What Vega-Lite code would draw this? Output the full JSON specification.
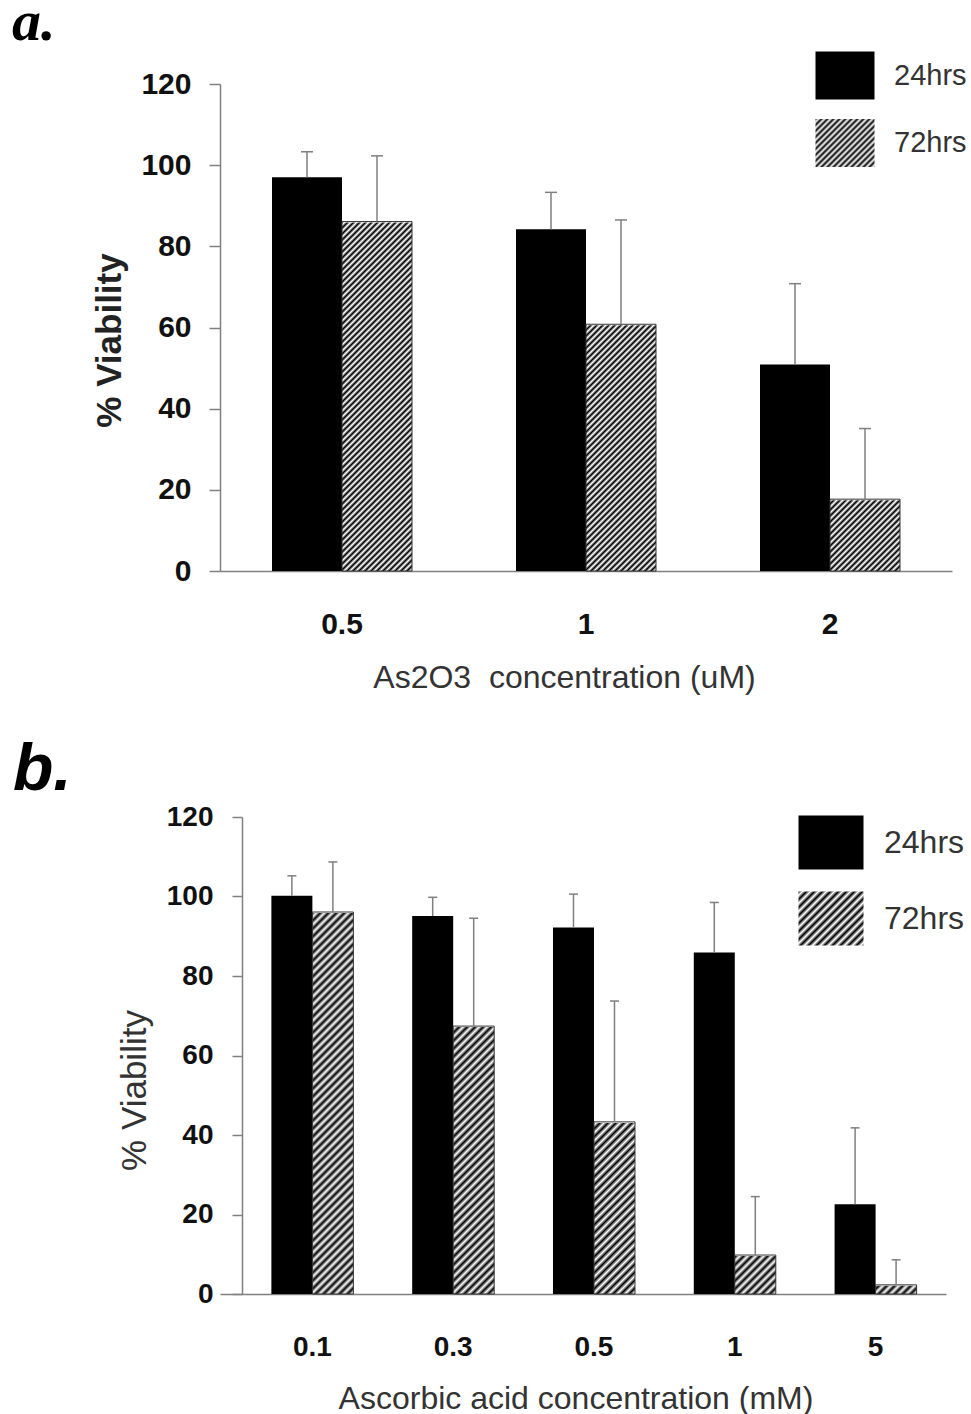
{
"$schema":"https://vega.github.io/schema/vega-lite/v6.json",
"padding":{"left":12,"top":-6,"right":0,"bottom":0},
"background":"white",
"bounds":"flush",
"spacing":246,
"resolve":{"scale":{"xOffset":"independent","shape":"independent","size":"independent"},"legend":{"shape":"independent","size":"independent"}},
"datasets":{
"a":[
{"conc":"0.5","time":"24hrs","mean":97.0,"upper":103.3},
{"conc":"0.5","time":"72hrs","mean":86.1,"upper":102.3},
{"conc":"1","time":"24hrs","mean":84.2,"upper":93.3},
{"conc":"1","time":"72hrs","mean":60.8,"upper":86.5},
{"conc":"2","time":"24hrs","mean":50.9,"upper":70.8},
{"conc":"2","time":"72hrs","mean":17.7,"upper":35.1}],
"b":[
{"conc":"0.1","time":"24hrs","mean":100.2,"upper":105.2},
{"conc":"0.1","time":"72hrs","mean":96.1,"upper":108.7},
{"conc":"0.3","time":"24hrs","mean":95.1,"upper":99.8},
{"conc":"0.3","time":"72hrs","mean":67.4,"upper":94.5},
{"conc":"0.5","time":"24hrs","mean":92.2,"upper":100.6},
{"conc":"0.5","time":"72hrs","mean":43.3,"upper":73.7},
{"conc":"1","time":"24hrs","mean":85.9,"upper":98.5},
{"conc":"1","time":"72hrs","mean":9.8,"upper":24.5},
{"conc":"5","time":"24hrs","mean":22.6,"upper":41.8},
{"conc":"5","time":"72hrs","mean":2.3,"upper":8.6}]
},
"vconcat":[
{
"width":732,"height":487,
"data":{"name":"a"},
"encoding":{
"x":{"field":"conc","type":"nominal","sort":null,"scale":{"domain":["0.5","1","2"],"paddingInner":0.4262,"paddingOuter":0.2131},"axis":{"title":"As2O3\u00a0 concentration (uM)","labelAngle":0,"ticks":false,"tickSize":0,"domainColor":"#808080","domainWidth":1.5,"labelFont":"Liberation Sans","labelFontWeight":"bold","labelFontSize":30,"labelColor":"#111","labelPadding":62,"labelBaseline":"alphabetic","titleFont":"Liberation Sans","titleFontWeight":"normal","titleFontSize":32,"titleColor":"#333","titleX":344,"titleY":116,"titleAlign":"center","titleBaseline":"alphabetic"}},
"xOffset":{"field":"time","type":"nominal","scale":{"domain":["24hrs","72hrs"]}},
"y":{"field":"mean","type":"quantitative","scale":{"domain":[0,120],"nice":false},"axis":{"title":"% Viability","values":[0,20,40,60,80,100,120],"domainColor":"#808080","domainWidth":1.5,"tickColor":"#808080","tickWidth":1.5,"tickSize":11,"labelFont":"Liberation Sans","labelFontWeight":"bold","labelFontSize":30,"labelColor":"#111","labelPadding":18,"titleFont":"Liberation Sans","titleFontWeight":"bold","titleFontSize":35,"titleColor":"#222","titleAngle":270,"titleX":-100,"titleY":256,"titleAlign":"center","titleBaseline":"alphabetic"}}
},
"layer":[
{"transform":[{"filter":"datum.time === '72hrs'"}],"mark":{"type":"bar","color":{"gradient":"linear","x1":0,"y1":0,"x2":0.1735,"y2":1.2071,"stops":[
{"offset":0,"color":"#000"},{"offset":0.005,"color":"#fff"},{"offset":0.01,"color":"#000"},{"offset":0.015,"color":"#fff"},{"offset":0.02,"color":"#000"},{"offset":0.025,"color":"#fff"},{"offset":0.03,"color":"#000"},{"offset":0.035,"color":"#fff"},{"offset":0.04,"color":"#000"},{"offset":0.045,"color":"#fff"},
{"offset":0.05,"color":"#000"},{"offset":0.055,"color":"#fff"},{"offset":0.06,"color":"#000"},{"offset":0.065,"color":"#fff"},{"offset":0.07,"color":"#000"},{"offset":0.075,"color":"#fff"},{"offset":0.08,"color":"#000"},{"offset":0.085,"color":"#fff"},{"offset":0.09,"color":"#000"},{"offset":0.095,"color":"#fff"},
{"offset":0.1,"color":"#000"},{"offset":0.105,"color":"#fff"},{"offset":0.11,"color":"#000"},{"offset":0.115,"color":"#fff"},{"offset":0.12,"color":"#000"},{"offset":0.125,"color":"#fff"},{"offset":0.13,"color":"#000"},{"offset":0.135,"color":"#fff"},{"offset":0.14,"color":"#000"},{"offset":0.145,"color":"#fff"},
{"offset":0.15,"color":"#000"},{"offset":0.155,"color":"#fff"},{"offset":0.16,"color":"#000"},{"offset":0.165,"color":"#fff"},{"offset":0.17,"color":"#000"},{"offset":0.175,"color":"#fff"},{"offset":0.18,"color":"#000"},{"offset":0.185,"color":"#fff"},{"offset":0.19,"color":"#000"},{"offset":0.195,"color":"#fff"},
{"offset":0.2,"color":"#000"},{"offset":0.205,"color":"#fff"},{"offset":0.21,"color":"#000"},{"offset":0.215,"color":"#fff"},{"offset":0.22,"color":"#000"},{"offset":0.225,"color":"#fff"},{"offset":0.23,"color":"#000"},{"offset":0.235,"color":"#fff"},{"offset":0.24,"color":"#000"},{"offset":0.245,"color":"#fff"},
{"offset":0.25,"color":"#000"},{"offset":0.255,"color":"#fff"},{"offset":0.26,"color":"#000"},{"offset":0.265,"color":"#fff"},{"offset":0.27,"color":"#000"},{"offset":0.275,"color":"#fff"},{"offset":0.28,"color":"#000"},{"offset":0.285,"color":"#fff"},{"offset":0.29,"color":"#000"},{"offset":0.295,"color":"#fff"},
{"offset":0.3,"color":"#000"},{"offset":0.305,"color":"#fff"},{"offset":0.31,"color":"#000"},{"offset":0.315,"color":"#fff"},{"offset":0.32,"color":"#000"},{"offset":0.325,"color":"#fff"},{"offset":0.33,"color":"#000"},{"offset":0.335,"color":"#fff"},{"offset":0.34,"color":"#000"},{"offset":0.345,"color":"#fff"},
{"offset":0.35,"color":"#000"},{"offset":0.355,"color":"#fff"},{"offset":0.36,"color":"#000"},{"offset":0.365,"color":"#fff"},{"offset":0.37,"color":"#000"},{"offset":0.375,"color":"#fff"},{"offset":0.38,"color":"#000"},{"offset":0.385,"color":"#fff"},{"offset":0.39,"color":"#000"},{"offset":0.395,"color":"#fff"},
{"offset":0.4,"color":"#000"},{"offset":0.405,"color":"#fff"},{"offset":0.41,"color":"#000"},{"offset":0.415,"color":"#fff"},{"offset":0.42,"color":"#000"},{"offset":0.425,"color":"#fff"},{"offset":0.43,"color":"#000"},{"offset":0.435,"color":"#fff"},{"offset":0.44,"color":"#000"},{"offset":0.445,"color":"#fff"},
{"offset":0.45,"color":"#000"},{"offset":0.455,"color":"#fff"},{"offset":0.46,"color":"#000"},{"offset":0.465,"color":"#fff"},{"offset":0.47,"color":"#000"},{"offset":0.475,"color":"#fff"},{"offset":0.48,"color":"#000"},{"offset":0.485,"color":"#fff"},{"offset":0.49,"color":"#000"},{"offset":0.495,"color":"#fff"},
{"offset":0.5,"color":"#000"},{"offset":0.505,"color":"#fff"},{"offset":0.51,"color":"#000"},{"offset":0.515,"color":"#fff"},{"offset":0.52,"color":"#000"},{"offset":0.525,"color":"#fff"},{"offset":0.53,"color":"#000"},{"offset":0.535,"color":"#fff"},{"offset":0.54,"color":"#000"},{"offset":0.545,"color":"#fff"},
{"offset":0.55,"color":"#000"},{"offset":0.555,"color":"#fff"},{"offset":0.56,"color":"#000"},{"offset":0.565,"color":"#fff"},{"offset":0.57,"color":"#000"},{"offset":0.575,"color":"#fff"},{"offset":0.58,"color":"#000"},{"offset":0.585,"color":"#fff"},{"offset":0.59,"color":"#000"},{"offset":0.595,"color":"#fff"},
{"offset":0.6,"color":"#000"},{"offset":0.605,"color":"#fff"},{"offset":0.61,"color":"#000"},{"offset":0.615,"color":"#fff"},{"offset":0.62,"color":"#000"},{"offset":0.625,"color":"#fff"},{"offset":0.63,"color":"#000"},{"offset":0.635,"color":"#fff"},{"offset":0.64,"color":"#000"},{"offset":0.645,"color":"#fff"},
{"offset":0.65,"color":"#000"},{"offset":0.655,"color":"#fff"},{"offset":0.66,"color":"#000"},{"offset":0.665,"color":"#fff"},{"offset":0.67,"color":"#000"},{"offset":0.675,"color":"#fff"},{"offset":0.68,"color":"#000"},{"offset":0.685,"color":"#fff"},{"offset":0.69,"color":"#000"},{"offset":0.695,"color":"#fff"},
{"offset":0.7,"color":"#000"},{"offset":0.705,"color":"#fff"},{"offset":0.71,"color":"#000"},{"offset":0.715,"color":"#fff"},{"offset":0.72,"color":"#000"},{"offset":0.725,"color":"#fff"},{"offset":0.73,"color":"#000"},{"offset":0.735,"color":"#fff"},{"offset":0.74,"color":"#000"},{"offset":0.745,"color":"#fff"},
{"offset":0.75,"color":"#000"},{"offset":0.755,"color":"#fff"},{"offset":0.76,"color":"#000"},{"offset":0.765,"color":"#fff"},{"offset":0.77,"color":"#000"},{"offset":0.775,"color":"#fff"},{"offset":0.78,"color":"#000"},{"offset":0.785,"color":"#fff"},{"offset":0.79,"color":"#000"},{"offset":0.795,"color":"#fff"},
{"offset":0.8,"color":"#000"},{"offset":0.805,"color":"#fff"},{"offset":0.81,"color":"#000"},{"offset":0.815,"color":"#fff"},{"offset":0.82,"color":"#000"},{"offset":0.825,"color":"#fff"},{"offset":0.83,"color":"#000"},{"offset":0.835,"color":"#fff"},{"offset":0.84,"color":"#000"},{"offset":0.845,"color":"#fff"},
{"offset":0.85,"color":"#000"},{"offset":0.855,"color":"#fff"},{"offset":0.86,"color":"#000"},{"offset":0.865,"color":"#fff"},{"offset":0.87,"color":"#000"},{"offset":0.875,"color":"#fff"},{"offset":0.88,"color":"#000"},{"offset":0.885,"color":"#fff"},{"offset":0.89,"color":"#000"},{"offset":0.895,"color":"#fff"},
{"offset":0.9,"color":"#000"},{"offset":0.905,"color":"#fff"},{"offset":0.91,"color":"#000"},{"offset":0.915,"color":"#fff"},{"offset":0.92,"color":"#000"},{"offset":0.925,"color":"#fff"},{"offset":0.93,"color":"#000"}]}},
"encoding":{"y":{"datum":120,"type":"quantitative","axis":{"title":"% Viability","values":[0,20,40,60,80,100,120],"domainColor":"#808080","domainWidth":1.5,"tickColor":"#808080","tickWidth":1.5,"tickSize":11,"labelFont":"Liberation Sans","labelFontWeight":"bold","labelFontSize":30,"labelColor":"#111","labelPadding":18,"titleFont":"Liberation Sans","titleFontWeight":"bold","titleFontSize":35,"titleColor":"#222","titleAngle":270,"titleX":-100,"titleY":256,"titleAlign":"center","titleBaseline":"alphabetic"}},"y2":{"datum":0}}},
{"transform":[{"filter":"datum.time === '72hrs'"}],"mark":{"type":"bar","color":"#ffffff","stroke":"#ffffff","strokeWidth":2},"encoding":{"y2":{"datum":120}}},
{"transform":[{"filter":"datum.time === '24hrs'"}],"mark":{"type":"bar","color":"#000000"}},
{"transform":[{"filter":"datum.time === '72hrs'"}],"mark":{"type":"bar","fill":"#ffffff","fillOpacity":0,"stroke":"#333333","strokeWidth":1}},
{"mark":{"type":"rule","color":"#7f7f7f","strokeWidth":1.5},"encoding":{"y2":{"field":"upper"}}},
{"mark":{"type":"tick","color":"#7f7f7f","thickness":1.5,"size":12,"opacity":1},"encoding":{"y":{"field":"upper","type":"quantitative","axis":{"title":"% Viability","values":[0,20,40,60,80,100,120],"domainColor":"#808080","domainWidth":1.5,"tickColor":"#808080","tickWidth":1.5,"tickSize":11,"labelFont":"Liberation Sans","labelFontWeight":"bold","labelFontSize":30,"labelColor":"#111","labelPadding":18,"titleFont":"Liberation Sans","titleFontWeight":"bold","titleFontSize":35,"titleColor":"#222","titleAngle":270,"titleX":-100,"titleY":256,"titleAlign":"center","titleBaseline":"alphabetic"}}}},
{"mark":{"type":"point","filled":true,"opacity":0,"size":3481,"stroke":"#333333","strokeWidth":1,
"fill":{"expr":"datum.value === '72hrs' ? {gradient:'linear',x1:0,y1:0,x2:1.2239,y2:0.9957,stops:[{offset:0,color:'#000'},{offset:0.025,color:'#fff'},{offset:0.05,color:'#000'},{offset:0.075,color:'#fff'},{offset:0.1,color:'#000'},{offset:0.125,color:'#fff'},{offset:0.15,color:'#000'},{offset:0.175,color:'#fff'},{offset:0.2,color:'#000'},{offset:0.225,color:'#fff'},{offset:0.25,color:'#000'},{offset:0.275,color:'#fff'},{offset:0.3,color:'#000'},{offset:0.325,color:'#fff'},{offset:0.35,color:'#000'},{offset:0.375,color:'#fff'},{offset:0.4,color:'#000'},{offset:0.425,color:'#fff'},{offset:0.45,color:'#000'},{offset:0.475,color:'#fff'},{offset:0.5,color:'#000'},{offset:0.525,color:'#fff'},{offset:0.55,color:'#000'},{offset:0.575,color:'#fff'},{offset:0.6,color:'#000'},{offset:0.625,color:'#fff'},{offset:0.65,color:'#000'},{offset:0.675,color:'#fff'},{offset:0.7,color:'#000'},{offset:0.725,color:'#fff'},{offset:0.75,color:'#000'},{offset:0.775,color:'#fff'},{offset:0.8,color:'#000'},{offset:0.825,color:'#fff'},{offset:0.85,color:'#000'},{offset:0.875,color:'#fff'},{offset:0.9,color:'#000'}]} : '#000'"}},
"encoding":{"shape":{"field":"time","type":"nominal","scale":{"domain":["24hrs","72hrs"],"range":["M-1,-0.8136L1,-0.8136L1,0.8136L-1,0.8136Z","M-1,-0.8136L1,-0.8136L1,0.8136L-1,0.8136Z"]},
"legend":{"orient":"none","legendX":595,"legendY":-38.5,"title":null,"padding":0,"symbolOffset":0,"symbolSize":3481,"symbolOpacity":1,"symbolStrokeColor":"#333","symbolStrokeWidth":1,"labelFont":"Liberation Sans","labelFontSize":29,"labelColor":"#333","labelOffset":19,"rowPadding":10.5}}}},
{"mark":{"type":"point","opacity":0},
"encoding":{"size":{"field":"time","type":"ordinal","scale":{"domain":["label"],"range":[0,0]},
"legend":{"orient":"none","legendX":-208,"legendY":-90,"title":"a.","titleFont":"Liberation Serif","titleFontSize":58,"titleFontStyle":"italic","titleFontWeight":"bold","titleColor":"#000","titleBaseline":"top","titlePadding":0,"titleLimit":500,"padding":0,"labelExpr":"''","symbolOpacity":0,"labelFontSize":1}}}}
]
},
{
"width":726,"height":477,
"data":{"name":"b"},
"encoding":{
"x":{"field":"conc","type":"nominal","sort":null,"scale":{"domain":["0.1","0.3","0.5","1","5"],"paddingInner":0.4176,"paddingOuter":0.2869,"align":0.636},"axis":{"title":"Ascorbic acid concentration (mM)","labelAngle":0,"ticks":false,"tickSize":0,"domainColor":"#808080","domainWidth":1.5,"labelFont":"Liberation Sans","labelFontWeight":"bold","labelFontSize":28,"labelColor":"#111","labelPadding":61,"labelBaseline":"alphabetic","titleFont":"Liberation Sans","titleFontWeight":"normal","titleFontSize":32,"titleColor":"#333","titleX":355.5,"titleY":114,"titleAlign":"center","titleBaseline":"alphabetic"}},
"xOffset":{"field":"time","type":"nominal","scale":{"domain":["24hrs","72hrs"]}},
"y":{"field":"mean","type":"quantitative","scale":{"domain":[0,120],"nice":false},"axis":{"title":"% Viability","offset":-22,"values":[0,20,40,60,80,100,120],"domainColor":"#808080","domainWidth":1.5,"tickColor":"#808080","tickWidth":1.5,"tickSize":10,"labelFont":"Liberation Sans","labelFontWeight":"bold","labelFontSize":28,"labelColor":"#111","labelPadding":19,"titleFont":"Liberation Sans","titleFontWeight":"normal","titleFontSize":35,"titleColor":"#333","titleAngle":270,"titleX":-97,"titleY":273,"titleAlign":"center","titleBaseline":"alphabetic"}}
},
"layer":[
{"transform":[{"filter":"datum.time === '72hrs'"}],"mark":{"type":"bar","color":{"gradient":"linear","x1":0,"y1":0,"x2":0.1431,"y2":1.6649,"stops":[
{"offset":0,"color":"#000"},{"offset":0.005,"color":"#fff"},{"offset":0.01,"color":"#000"},{"offset":0.015,"color":"#fff"},{"offset":0.02,"color":"#000"},{"offset":0.025,"color":"#fff"},{"offset":0.03,"color":"#000"},{"offset":0.035,"color":"#fff"},{"offset":0.04,"color":"#000"},{"offset":0.045,"color":"#fff"},
{"offset":0.05,"color":"#000"},{"offset":0.055,"color":"#fff"},{"offset":0.06,"color":"#000"},{"offset":0.065,"color":"#fff"},{"offset":0.07,"color":"#000"},{"offset":0.075,"color":"#fff"},{"offset":0.08,"color":"#000"},{"offset":0.085,"color":"#fff"},{"offset":0.09,"color":"#000"},{"offset":0.095,"color":"#fff"},
{"offset":0.1,"color":"#000"},{"offset":0.105,"color":"#fff"},{"offset":0.11,"color":"#000"},{"offset":0.115,"color":"#fff"},{"offset":0.12,"color":"#000"},{"offset":0.125,"color":"#fff"},{"offset":0.13,"color":"#000"},{"offset":0.135,"color":"#fff"},{"offset":0.14,"color":"#000"},{"offset":0.145,"color":"#fff"},
{"offset":0.15,"color":"#000"},{"offset":0.155,"color":"#fff"},{"offset":0.16,"color":"#000"},{"offset":0.165,"color":"#fff"},{"offset":0.17,"color":"#000"},{"offset":0.175,"color":"#fff"},{"offset":0.18,"color":"#000"},{"offset":0.185,"color":"#fff"},{"offset":0.19,"color":"#000"},{"offset":0.195,"color":"#fff"},
{"offset":0.2,"color":"#000"},{"offset":0.205,"color":"#fff"},{"offset":0.21,"color":"#000"},{"offset":0.215,"color":"#fff"},{"offset":0.22,"color":"#000"},{"offset":0.225,"color":"#fff"},{"offset":0.23,"color":"#000"},{"offset":0.235,"color":"#fff"},{"offset":0.24,"color":"#000"},{"offset":0.245,"color":"#fff"},
{"offset":0.25,"color":"#000"},{"offset":0.255,"color":"#fff"},{"offset":0.26,"color":"#000"},{"offset":0.265,"color":"#fff"},{"offset":0.27,"color":"#000"},{"offset":0.275,"color":"#fff"},{"offset":0.28,"color":"#000"},{"offset":0.285,"color":"#fff"},{"offset":0.29,"color":"#000"},{"offset":0.295,"color":"#fff"},
{"offset":0.3,"color":"#000"},{"offset":0.305,"color":"#fff"},{"offset":0.31,"color":"#000"},{"offset":0.315,"color":"#fff"},{"offset":0.32,"color":"#000"},{"offset":0.325,"color":"#fff"},{"offset":0.33,"color":"#000"},{"offset":0.335,"color":"#fff"},{"offset":0.34,"color":"#000"},{"offset":0.345,"color":"#fff"},
{"offset":0.35,"color":"#000"},{"offset":0.355,"color":"#fff"},{"offset":0.36,"color":"#000"},{"offset":0.365,"color":"#fff"},{"offset":0.37,"color":"#000"},{"offset":0.375,"color":"#fff"},{"offset":0.38,"color":"#000"},{"offset":0.385,"color":"#fff"},{"offset":0.39,"color":"#000"},{"offset":0.395,"color":"#fff"},
{"offset":0.4,"color":"#000"},{"offset":0.405,"color":"#fff"},{"offset":0.41,"color":"#000"},{"offset":0.415,"color":"#fff"},{"offset":0.42,"color":"#000"},{"offset":0.425,"color":"#fff"},{"offset":0.43,"color":"#000"},{"offset":0.435,"color":"#fff"},{"offset":0.44,"color":"#000"},{"offset":0.445,"color":"#fff"},
{"offset":0.45,"color":"#000"},{"offset":0.455,"color":"#fff"},{"offset":0.46,"color":"#000"},{"offset":0.465,"color":"#fff"},{"offset":0.47,"color":"#000"},{"offset":0.475,"color":"#fff"},{"offset":0.48,"color":"#000"},{"offset":0.485,"color":"#fff"},{"offset":0.49,"color":"#000"},{"offset":0.495,"color":"#fff"},
{"offset":0.5,"color":"#000"},{"offset":0.505,"color":"#fff"},{"offset":0.51,"color":"#000"},{"offset":0.515,"color":"#fff"},{"offset":0.52,"color":"#000"},{"offset":0.525,"color":"#fff"},{"offset":0.53,"color":"#000"},{"offset":0.535,"color":"#fff"},{"offset":0.54,"color":"#000"},{"offset":0.545,"color":"#fff"},
{"offset":0.55,"color":"#000"},{"offset":0.555,"color":"#fff"},{"offset":0.56,"color":"#000"},{"offset":0.565,"color":"#fff"},{"offset":0.57,"color":"#000"},{"offset":0.575,"color":"#fff"},{"offset":0.58,"color":"#000"},{"offset":0.585,"color":"#fff"},{"offset":0.59,"color":"#000"},{"offset":0.595,"color":"#fff"},
{"offset":0.6,"color":"#000"},{"offset":0.605,"color":"#fff"},{"offset":0.61,"color":"#000"},{"offset":0.615,"color":"#fff"},{"offset":0.62,"color":"#000"},{"offset":0.625,"color":"#fff"},{"offset":0.63,"color":"#000"},{"offset":0.635,"color":"#fff"},{"offset":0.64,"color":"#000"},{"offset":0.645,"color":"#fff"},
{"offset":0.65,"color":"#000"}]}},
"encoding":{"y":{"datum":120,"type":"quantitative","axis":{"title":"% Viability","offset":-22,"values":[0,20,40,60,80,100,120],"domainColor":"#808080","domainWidth":1.5,"tickColor":"#808080","tickWidth":1.5,"tickSize":10,"labelFont":"Liberation Sans","labelFontWeight":"bold","labelFontSize":28,"labelColor":"#111","labelPadding":19,"titleFont":"Liberation Sans","titleFontWeight":"normal","titleFontSize":35,"titleColor":"#333","titleAngle":270,"titleX":-97,"titleY":273,"titleAlign":"center","titleBaseline":"alphabetic"}},"y2":{"datum":0}}},
{"transform":[{"filter":"datum.time === '72hrs'"}],"mark":{"type":"bar","color":"#ffffff","stroke":"#ffffff","strokeWidth":2},"encoding":{"y2":{"datum":120}}},
{"transform":[{"filter":"datum.time === '24hrs'"}],"mark":{"type":"bar","color":"#000000"}},
{"transform":[{"filter":"datum.time === '72hrs'"}],"mark":{"type":"bar","fill":"#ffffff","fillOpacity":0,"stroke":"#333333","strokeWidth":1}},
{"mark":{"type":"rule","color":"#7f7f7f","strokeWidth":1.5},"encoding":{"y2":{"field":"upper"}}},
{"mark":{"type":"tick","color":"#7f7f7f","thickness":1.5,"size":9,"opacity":1},"encoding":{"y":{"field":"upper","type":"quantitative","axis":{"title":"% Viability","offset":-22,"values":[0,20,40,60,80,100,120],"domainColor":"#808080","domainWidth":1.5,"tickColor":"#808080","tickWidth":1.5,"tickSize":10,"labelFont":"Liberation Sans","labelFontWeight":"bold","labelFontSize":28,"labelColor":"#111","labelPadding":19,"titleFont":"Liberation Sans","titleFontWeight":"normal","titleFontSize":35,"titleColor":"#333","titleAngle":270,"titleX":-97,"titleY":273,"titleAlign":"center","titleBaseline":"alphabetic"}}}},
{"mark":{"type":"point","filled":true,"opacity":0,"size":4225,"stroke":"#333333","strokeWidth":1,
"fill":{"expr":"datum.value === '72hrs' ? {gradient:'linear',x1:0,y1:0,x2:1.4564,y2:1.2099,stops:[{offset:0,color:'#000'},{offset:0.025,color:'#fff'},{offset:0.05,color:'#000'},{offset:0.075,color:'#fff'},{offset:0.1,color:'#000'},{offset:0.125,color:'#fff'},{offset:0.15,color:'#000'},{offset:0.175,color:'#fff'},{offset:0.2,color:'#000'},{offset:0.225,color:'#fff'},{offset:0.25,color:'#000'},{offset:0.275,color:'#fff'},{offset:0.3,color:'#000'},{offset:0.325,color:'#fff'},{offset:0.35,color:'#000'},{offset:0.375,color:'#fff'},{offset:0.4,color:'#000'},{offset:0.425,color:'#fff'},{offset:0.45,color:'#000'},{offset:0.475,color:'#fff'},{offset:0.5,color:'#000'},{offset:0.525,color:'#fff'},{offset:0.55,color:'#000'},{offset:0.575,color:'#fff'},{offset:0.6,color:'#000'},{offset:0.625,color:'#fff'},{offset:0.65,color:'#000'},{offset:0.675,color:'#fff'},{offset:0.7,color:'#000'},{offset:0.725,color:'#fff'},{offset:0.75,color:'#000'}]} : '#000'"}},
"encoding":{"shape":{"field":"time","type":"nominal","scale":{"domain":["24hrs","72hrs"],"range":["M-1,-0.8308L1,-0.8308L1,0.8308L-1,0.8308Z","M-1,-0.8308L1,-0.8308L1,0.8308L-1,0.8308Z"]},
"legend":{"orient":"none","legendX":578,"legendY":-7.5,"title":null,"padding":0,"symbolOffset":0,"symbolSize":4225,"symbolOpacity":1,"symbolStrokeColor":"#333","symbolStrokeWidth":1,"labelFont":"Liberation Sans","labelFontSize":32,"labelColor":"#333","labelOffset":20,"rowPadding":13}}}},
{"mark":{"type":"point","opacity":0},
"encoding":{"size":{"field":"time","type":"ordinal","scale":{"domain":["label"],"range":[0,0]},
"legend":{"orient":"none","legendX":-207,"legendY":-79,"title":"b.","titleFont":"Liberation Sans","titleFontSize":66,"titleFontStyle":"italic","titleFontWeight":"bold","titleColor":"#000","titleBaseline":"top","titlePadding":0,"titleLimit":500,"padding":0,"labelExpr":"''","symbolOpacity":0,"labelFontSize":1}}}}
]
}
],
"config":{"view":{"stroke":null},"axis":{"grid":false}}
}
